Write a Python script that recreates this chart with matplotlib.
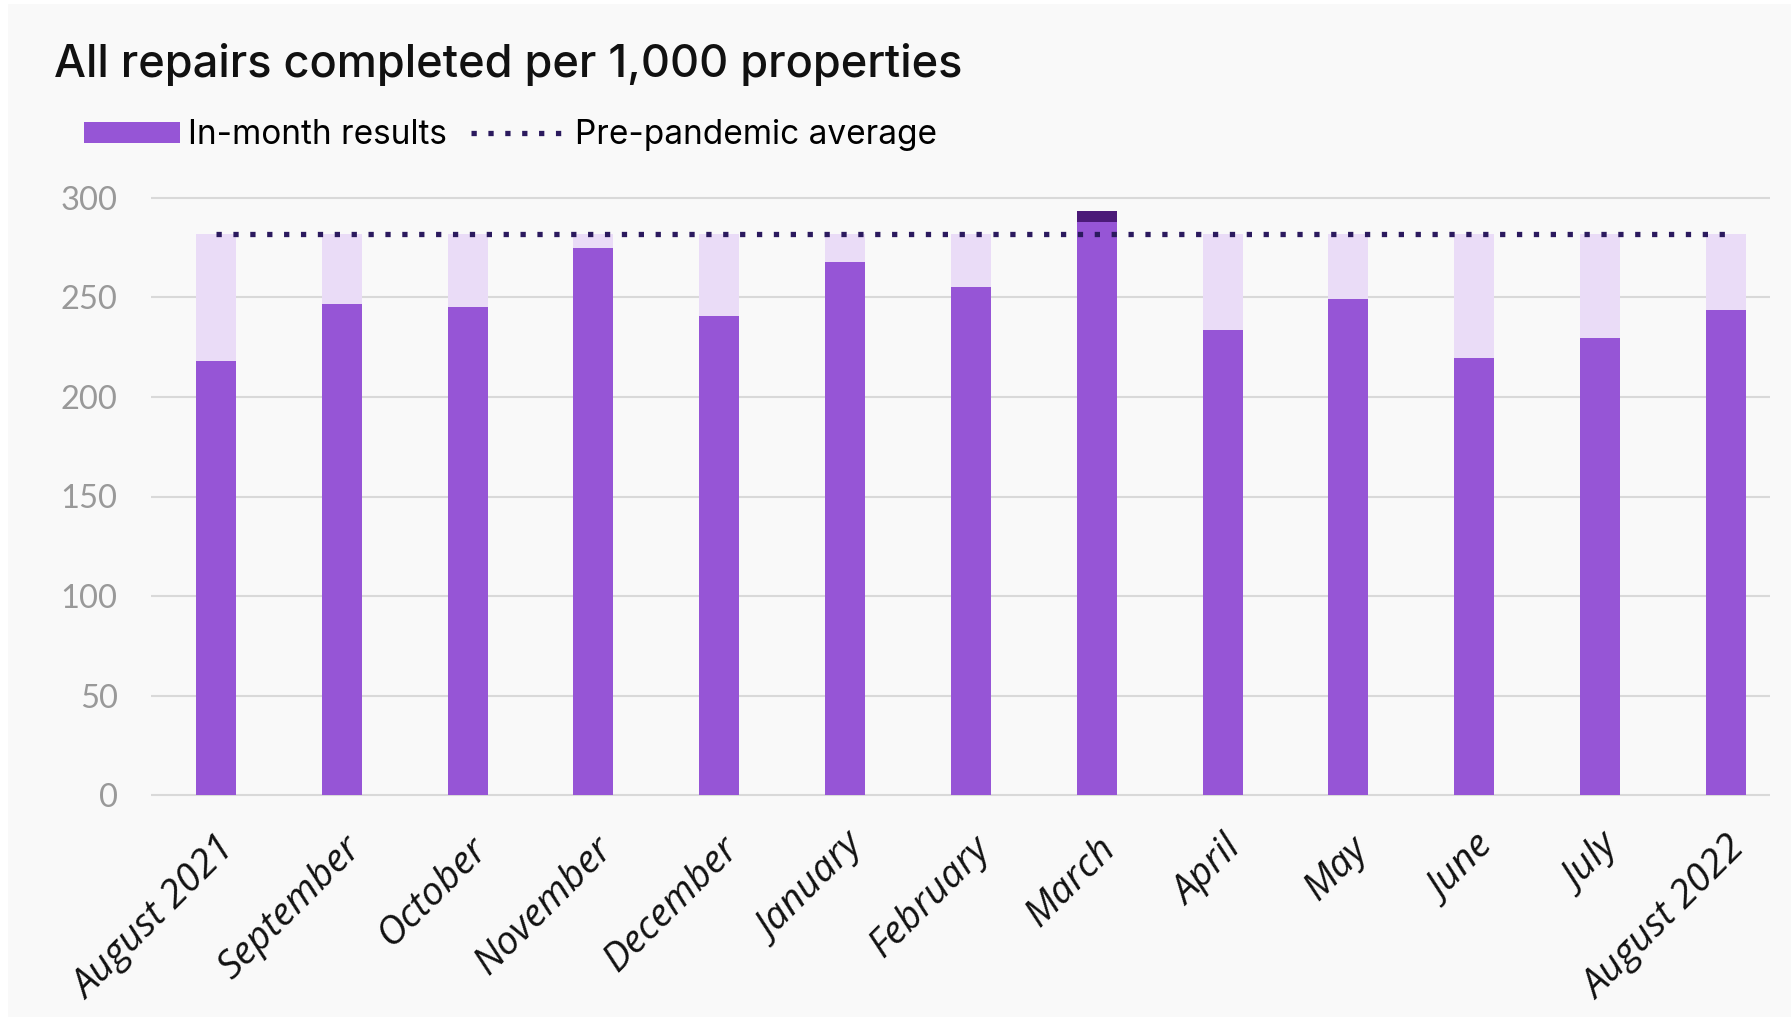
import matplotlib.pyplot as plt
from matplotlib.patches import Patch, Rectangle
from matplotlib.lines import Line2D

# Repairs completed per 1,000 properties, month by month
months = ['August 2021', 'September', 'October', 'November', 'December',
          'January', 'February', 'March', 'April', 'May', 'June', 'July',
          'August 2022']
in_month = [218, 246.5, 245, 274.5, 240.5, 267.5, 255, 287.7, 233.5, 249,
            219.5, 229.5, 243.5]
# extra slice shown in a darker shade on top of the bar (March only)
above = [0, 0, 0, 0, 0, 0, 0, 5.5, 0, 0, 0, 0, 0]
pre_pandemic = 282
yticks = [0, 50, 100, 150, 200, 250, 300]

purple = '#9655d6'
lavender = '#eadcf7'
dark = '#4b1a78'
dots = '#2b1a5e'
bg = '#f9f9f9'

fig = plt.figure(figsize=(17.91, 10.17), dpi=100)
fig.patch.set_facecolor('white')
fig.patches.append(Rectangle((8 / 1791, 0), 1, 1 - 4 / 1017,
                             transform=fig.transFigure, facecolor=bg,
                             edgecolor='none', zorder=-10))

ax = fig.add_axes([151 / 1791, 1 - 799.3 / 1017, (1770 - 151) / 1791,
                   (799.3 - 193.7) / 1017])
ax.set_facecolor(bg)

x = range(len(months))
w = 0.318
ax.bar(x, [pre_pandemic] * len(months), width=w, color=lavender, zorder=2)
ax.bar(x, in_month, width=w, color=purple, zorder=3)
ax.bar(x, above, width=w, bottom=in_month, color=dark, zorder=3)
ax.plot([0, 12], [pre_pandemic, pre_pandemic], color=dots, lw=3.8,
        linestyle=(0, (1, 2.2)), dash_capstyle='butt', zorder=4)

ax.set_xlim(-0.516, 12.35)
ax.set_ylim(-2, 302)
ax.set_yticks(yticks)
ax.grid(axis='y', color='#d9d9d9', lw=1.5, zorder=0)
ax.set_axisbelow(True)
for s in ax.spines.values():
    s.set_visible(False)
ax.tick_params(length=0)
ax.tick_params(axis='y', pad=24, labelsize=23.5, labelcolor='#999999')
for t in ax.get_yticklabels():
    t.set_fontfamily('Lato')

ax.set_xticks(list(x))
ax.set_xticklabels(months, rotation=45, ha='right', rotation_mode='anchor',
                   fontsize=28, family='Open Sans', style='italic',
                   color='#111111')
ax.tick_params(axis='x', pad=22)

fig.text(54 / 1791, 1 - 77 / 1017, 'All repairs completed per 1,000 properties',
         fontsize=32.5, family='Inter', fontweight='medium', color='#111111',
         va='baseline')

handles = [Patch(facecolor=purple, edgecolor='none'),
           Line2D([], [], color=dots, lw=3.8, linestyle=(0, (1, 2.2)),
                  dash_capstyle='butt')]
fig.legend(handles, ['In-month results', 'Pre-pandemic average'],
           loc='center left', bbox_to_anchor=(54 / 1791, 1 - 135 / 1017),
           ncol=2, frameon=False, handlelength=2.88, handleheight=0.6,
           handletextpad=0.24, columnspacing=0.72,
           prop={'family': 'Inter', 'size': 24})

fig.savefig('out.png', dpi=100, facecolor='white')
